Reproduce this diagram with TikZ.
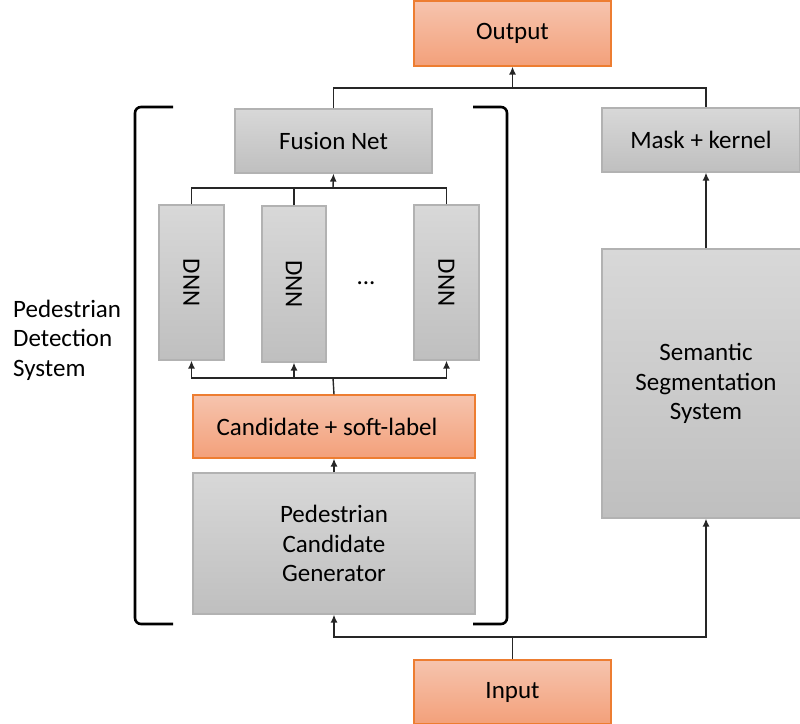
\documentclass[tikz,border=0pt]{standalone}
\usepackage{fontspec}
\setmainfont{Carlito}
\usetikzlibrary{arrows.meta}
\definecolor{gtop}{RGB}{216,216,216}
\definecolor{gbot}{RGB}{191,191,191}
\definecolor{gedge}{RGB}{178,178,178}
\definecolor{otop}{RGB}{246,196,174}
\definecolor{obot}{RGB}{243,160,122}
\definecolor{oedge}{RGB}{237,125,49}
\colorlet{lnk}{black!85}
\tikzset{
    gbox/.style={draw=gedge,line width=1.2pt,top color=gtop,bottom color=gbot,inner sep=0pt,align=center},
    obox/.style={draw=oedge,line width=1.2pt,top color=otop,bottom color=obot,inner sep=0pt,align=center},
    link/.style={lnk,line width=1.4pt},
    arr/.style={link,-{Latex[length=8pt,width=7pt]}},
    brk/.style={black,line width=2.6pt,rounded corners=6pt}
}

\begin{document}
\begin{tikzpicture}[x=1pt,y=-1pt,font=\fontsize{25}{29.5}\selectfont]
    \useasboundingbox (0,0) rectangle (800,723);
    \node [obox,minimum width=197pt,minimum height=65pt] (out) at (512.5,33.5) {\raisebox{-4pt}{Output}};
    \node [gbox,minimum width=197pt,minimum height=64pt] (fus) at (333.5,141) {Fusion Net};
    \node [gbox,minimum width=198pt,minimum height=64pt] (mask) at (701,140) {Mask + kernel};
    \node [gbox,minimum width=65pt,minimum height=155pt] (d1) at (191.5,282.5) {\rotatebox{-90}{DNN}};
    \node [gbox,minimum width=64pt,minimum height=156pt] (d2) at (294,284) {\rotatebox{-90}{DNN}};
    \node [gbox,minimum width=65pt,minimum height=155pt] (d3) at (446.5,282.5) {\rotatebox{-90}{DNN}};
    \node (dots) at (366,283) {...};
    \node [obox,minimum width=282pt,minimum height=63pt] (cand) at (334,426.5) {Candidate + soft-label\hspace*{14pt}};
    \node [gbox,minimum width=282pt,minimum height=141pt] (gen) at (334,543.5) {Pedestrian\\Candidate\\Generator};
    \node [gbox,minimum width=208pt,minimum height=269pt] (sem) at (706,383.5) {Semantic\\Segmentation\\System};
    \node [obox,minimum width=197pt,minimum height=64pt] (in) at (512.5,692) {Input};
    \node [align=left,anchor=west,inner sep=0pt] (pds) at (13,340) {Pedestrian\\Detection\\System};
    \draw [brk] (173,107) -- (135,107) -- (135,624) -- (173,624);
    \draw [brk] (473,107) -- (507,107) -- (507,624) -- (473,624);
    \coordinate (top) at (512.5,88);
    \coordinate (bot) at (512.5,637);
    \coordinate (fs) at (333,188);
    \coordinate (cs) at (333,378);
    \draw [link] (fus.north) |- (top) -| (sem.north |- mask.north);
    \draw [arr] (top) -- (out.south);
    \draw [arr] (sem.north) -- (sem.north |- mask.south);
    \foreach \d in {d1,d2,d3} {
        \draw [link] (\d.north) |- (fs);
        \draw [arr] (cs) -| (\d.south);
    }
    \draw [arr] (fs) -- (fus.south);
    \draw [link] (cand.north) -- (cs);
    \draw [arr] (gen.north) -- (cand.south);
    \draw [link] (in.north) -- (bot);
    \draw [arr] (bot) -| (gen.south);
    \draw [arr] (bot) -| (sem.south);
\end{tikzpicture}
\end{document}
